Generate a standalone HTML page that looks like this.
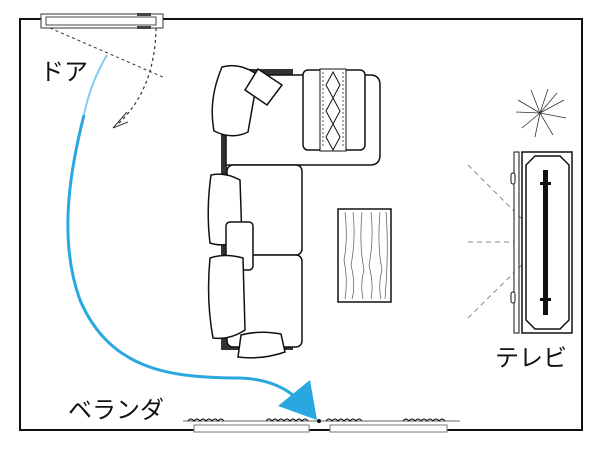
<!DOCTYPE html>
<html><head><meta charset="utf-8"><style>
html,body{margin:0;padding:0;background:#fff;}
svg{display:block;}
text{font-family:"Liberation Sans","Noto Sans CJK JP",sans-serif;}
</style></head><body>
<svg width="602" height="451" viewBox="0 0 602 451" xmlns="http://www.w3.org/2000/svg">
<rect x="20" y="19" width="562" height="411" fill="none" stroke="#111" stroke-width="2"/>
<!-- door -->
<rect x="41" y="14" width="122" height="14" fill="#fff" stroke="#333" stroke-width="1"/>
<rect x="46" y="17" width="110" height="8" fill="#fff" stroke="#444" stroke-width="1"/>
<rect x="137" y="13" width="14" height="3" fill="#444"/>
<rect x="137" y="26" width="14" height="3" fill="#444"/>
<path d="M50 28 L165 78" stroke="#333" stroke-width="1" stroke-dasharray="3,3" fill="none"/>
<path d="M156 28 Q155 90 117 125" stroke="#333" stroke-width="1.2" stroke-dasharray="3,3" fill="none"/>
<path d="M127 112 L113 128 L128 122" stroke="#333" stroke-width="1" fill="none"/>
<text x="40" y="80" font-size="24" fill="#111">ドア</text>
<!-- blue arrow -->
<path d="M84 115 C70 170 58 240 80 300 C110 370 170 378 240 378 C270 379 290 390 300 402" stroke="#29a8e0" stroke-width="3" fill="none"/>
<path d="M107 55 C95 75 88 95 84 115" stroke="#7fcdef" stroke-width="2" fill="none"/>
<polygon points="278,406 310,380 317,420" fill="#29a8e0"/>
<!-- sofa -->
<rect x="221" y="70" width="6" height="280" fill="#333"/>
<rect x="245" y="69" width="48" height="6" fill="#333"/>
<rect x="221" y="344" width="72" height="6" fill="#333"/>
<path d="M226 75 H370 Q380 75 380 85 V155 Q380 165 370 165 H226 Z" fill="#fff" stroke="#111" stroke-width="1.5"/>
<rect x="303" y="70" width="62" height="80" rx="5" fill="#fff" stroke="#111" stroke-width="1.5"/>
<rect x="320" y="69" width="26" height="82" fill="#fff" stroke="#111" stroke-width="1"/>
<path d="M333 72 L340 85 L333 98 L326 85 Z M333 98 L340 111 L333 124 L326 111 Z M333 124 L340 137 L333 150 L326 137 Z" fill="none" stroke="#111" stroke-width="1"/>
<line x1="323" y1="72" x2="323" y2="148" stroke="#555" stroke-dasharray="2,2"/>
<line x1="343" y1="72" x2="343" y2="148" stroke="#555" stroke-dasharray="2,2"/>
<rect x="227" y="165" width="75" height="90" rx="6" fill="#fff" stroke="#111" stroke-width="1.5"/>
<rect x="227" y="255" width="75" height="92" rx="6" fill="#fff" stroke="#111" stroke-width="1.5"/>
<path d="M222 67 Q240 62 258 75 L248 132 Q232 140 214 131 Q208 100 222 67 Z" fill="#fff" stroke="#111" stroke-width="1.5"/>
<path d="M258 69 L282 85 L267 105 L245 90 Z" fill="#fff" stroke="#111" stroke-width="1.5"/>
<path d="M211 175 Q225 172 240 180 L242 240 Q225 248 210 243 Q206 210 211 175 Z" fill="#fff" stroke="#111" stroke-width="1.5"/>
<rect x="226" y="222" width="27" height="48" rx="4" fill="#fff" stroke="#111" stroke-width="1.5"/>
<path d="M210 258 Q225 253 243 258 L245 330 Q230 340 213 338 Q206 300 210 258 Z" fill="#fff" stroke="#111" stroke-width="1.5"/>
<path d="M241 335 Q260 330 281 334 L285 352 Q262 360 238 357 Z" fill="#fff" stroke="#111" stroke-width="1.5"/>
<!-- coffee table -->
<rect x="338" y="209" width="53" height="93" fill="#fff" stroke="#111" stroke-width="1.5"/>
<g stroke="#555" stroke-width="0.7" fill="none">
<path d="M345 212 Q348 240 344 260 Q348 280 345 299"/><path d="M353 212 Q356 240 351 265 Q356 285 352 299"/>
<path d="M362 212 Q359 245 364 270 Q360 285 363 299"/><path d="M371 212 Q374 240 369 265 Q374 285 371 299"/>
<path d="M380 212 Q377 245 382 270 Q378 285 381 299"/><path d="M386 212 Q389 250 385 299"/>
</g>
<!-- plant -->
<g stroke="#333" stroke-width="0.8" fill="none">
<path d="M540 113 L518 100 M540 113 L522 128 M540 113 L531 90 M540 113 L548 89 M540 113 L564 100 M540 113 L566 118 M540 113 L553 135 M540 113 L535 137 M540 113 L516 112 M540 113 L557 93"/>
</g>
<!-- TV -->
<g stroke="#888" stroke-width="1" stroke-dasharray="5,4" fill="none">
<line x1="468" y1="165" x2="545" y2="242"/><line x1="468" y1="242" x2="545" y2="242"/><line x1="468" y1="318" x2="545" y2="242"/>
</g>
<rect x="514" y="152" width="5" height="181" fill="#fff" stroke="#111" stroke-width="1"/>
<rect x="511" y="173" width="4" height="11" rx="2" fill="#fff" stroke="#111"/>
<rect x="511" y="292" width="4" height="11" rx="2" fill="#fff" stroke="#111"/>
<rect x="522" y="152" width="50" height="181" fill="#fff" stroke="#111" stroke-width="1.5"/>
<path d="M535 156 H560 L569 165 V320 L560 329 H535 L526 320 V165 Z" fill="none" stroke="#111" stroke-width="1.5"/>
<rect x="543" y="170" width="5" height="145" fill="#111"/>
<rect x="540" y="182" width="11" height="3" fill="#111"/><rect x="540" y="298" width="11" height="3" fill="#111"/>
<text x="495" y="366" font-size="24" fill="#111">テレビ</text>
<!-- veranda -->
<text x="68" y="418" font-size="24" fill="#111">ベランダ</text>
<line x1="183" y1="421" x2="460" y2="421" stroke="#666" stroke-width="1"/>
<path d="M188 421 q3 -4 6 0 q3 -4 6 0 q3 -4 6 0 q3 -4 6 0 q3 -4 6 0 q3 -4 6 0 M266 421 q3 -4 6 0 q3 -4 6 0 q3 -4 6 0 q3 -4 6 0 q3 -4 6 0 q3 -4 6 0 q3 -4 6 0 M326 421 q3 -4 6 0 q3 -4 6 0 q3 -4 6 0 q3 -4 6 0 q3 -4 6 0 q3 -4 6 0 M403 421 q3 -4 6 0 q3 -4 6 0 q3 -4 6 0 q3 -4 6 0 q3 -4 6 0 q3 -4 6 0 q3 -4 6 0" stroke="#111" stroke-width="1" fill="none"/>
<circle cx="319" cy="421" r="2" fill="#111"/>
<rect x="194" y="425" width="115" height="7" fill="#fff" stroke="#777" stroke-width="1"/>
<rect x="330" y="425" width="117" height="7" fill="#fff" stroke="#777" stroke-width="1"/>
</svg>
</body></html>
